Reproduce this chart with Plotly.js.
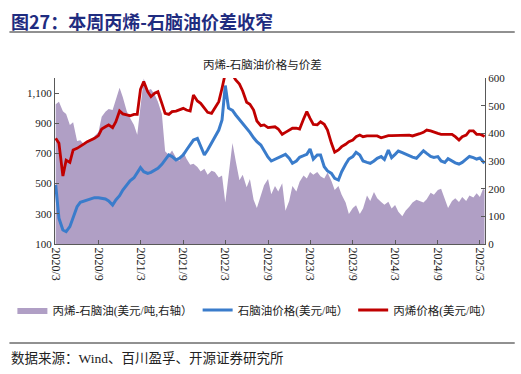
<!DOCTYPE html>
<html>
<head>
<meta charset="utf-8">
<script src="https://cdn.plot.ly/plotly-3.0.1.min.js"></script>
<style>
html,body{margin:0;padding:0;background:#fff;}
#chart{width:521px;height:374px;}
</style>
</head>
<body>
<div id="chart"></div>
<script>
// Semi-monthly observation dates
var dates = [
"2020-03-01","2020-03-15","2020-04-01","2020-04-15","2020-05-01","2020-05-15","2020-06-01","2020-06-15",
"2020-07-01","2020-07-15","2020-08-01","2020-08-15","2020-09-01","2020-09-15","2020-10-01","2020-10-15",
"2020-11-01","2020-11-15","2020-12-01","2020-12-15","2021-01-01","2021-01-15","2021-02-01","2021-02-15",
"2021-03-01","2021-03-15","2021-04-01","2021-04-15","2021-05-01","2021-05-15","2021-06-01","2021-06-15",
"2021-07-01","2021-07-15","2021-08-01","2021-08-15","2021-09-01","2021-09-15","2021-10-01","2021-10-15",
"2021-11-01","2021-11-15","2021-12-01","2021-12-15","2022-01-01","2022-01-15","2022-02-01","2022-02-15",
"2022-03-01","2022-03-15","2022-04-01","2022-04-15","2022-05-01","2022-05-15","2022-06-01","2022-06-15",
"2022-07-01","2022-07-15","2022-08-01","2022-08-15","2022-09-01","2022-09-15","2022-10-01","2022-10-15",
"2022-11-01","2022-11-15","2022-12-01","2022-12-15","2023-01-01","2023-01-15","2023-02-01","2023-02-15",
"2023-03-01","2023-03-15","2023-04-01","2023-04-15","2023-05-01","2023-05-15","2023-06-01","2023-06-15",
"2023-07-01","2023-07-15","2023-08-01","2023-08-15","2023-09-01","2023-09-15","2023-10-01","2023-10-15",
"2023-11-01","2023-11-15","2023-12-01","2023-12-15","2024-01-01","2024-01-15","2024-02-01","2024-02-15",
"2024-03-01","2024-03-15","2024-04-01","2024-04-15","2024-05-01","2024-05-15","2024-06-01","2024-06-15",
"2024-07-01","2024-07-15","2024-08-01","2024-08-15","2024-09-01","2024-09-15","2024-10-01","2024-10-15",
"2024-11-01","2024-11-15","2024-12-01","2024-12-15","2025-01-01","2025-01-15","2025-02-01","2025-02-15",
"2025-03-01","2025-03-15","2025-03-21"
];

// Propylene price (USD/t, left axis)
var propylene = [
800,767,550,655,641,723,734,745,763,778,789,800,818,862,877,889,
871,910,981,962,955,950,959,959,1125,1176,1109,1076,1099,1109,1032,966,
959,977,981,988,999,988,981,1087,1048,1032,1003,973,966,1003,1043,1132,
1230,1265,1225,1187,1160,1114,1039,1026,988,915,884,889,871,873,877,862,
827,840,855,867,867,862,928,977,933,893,890,910,893,855,767,708,
723,745,761,778,789,811,822,811,816,816,818,816,804,811,818,818,
818,822,818,822,822,816,822,831,840,855,849,844,833,827,827,822,
827,811,789,811,822,849,849,827,827,818,811
];

// Naphtha price (USD/t, left axis)
var naphtha = [
491,270,193,182,215,270,347,376,385,392,398,407,407,403,398,385,
358,392,420,458,491,518,539,575,606,579,568,575,590,602,628,657,
690,679,657,668,690,723,756,789,800,751,690,723,767,811,855,922,
1150,1000,985,955,926,895,871,840,804,778,756,721,675,650,661,668,
683,694,668,635,650,675,685,694,730,663,690,690,612,584,568,535,
524,579,628,663,679,708,690,650,641,635,650,668,679,660,723,672,
694,716,706,695,684,676,668,690,718,700,680,674,679,650,640,665,
650,638,630,641,662,680,672,663,670,645,635
];

// Propylene - naphtha spread (USD/t, right axis)
var spread = [
505,514,480,470,430,440,372,375,360,368,374,390,404,460,478,488,
484,520,565,530,480,455,430,395,490,598,555,560,540,514,470,335,
322,338,312,300,334,308,286,290,278,262,272,250,265,260,240,248,
150,240,365,300,230,250,205,235,160,130,175,212,235,180,210,190,
220,120,155,210,190,225,248,237,260,250,260,245,237,258,228,195,
210,178,150,108,130,140,108,128,175,155,188,165,152,142,153,128,
141,117,100,120,135,150,160,155,150,162,185,178,195,200,165,130,
155,165,152,170,155,175,168,183,170,200,195
];

var tickDates = ["2020-03-01","2020-09-01","2021-03-01","2021-09-01","2022-03-01","2022-09-01",
                 "2023-03-01","2023-09-01","2024-03-01","2024-09-01","2025-03-01"];
var tickLabels = ["2020/3","2020/9","2021/3","2021/9","2022/3","2022/9",
                  "2023/3","2023/9","2024/3","2024/9","2025/3"];
var leftTicks = [100,300,500,700,900,1100];
var rightTicks = [0,100,200,300,400,500,600];

var seriesNames = ["丙烯-石脑油(美元/吨,右轴）","石脑油价格(美元/吨）","丙烯价格(美元/吨）"];

var FONT = "Liberation Serif, 'Noto Sans CJK SC', serif";
var AXC = "#595959";

var traces = [
  {x: dates, y: spread, name: seriesNames[0], type: "scatter", mode: "lines",
   fill: "tozeroy", fillcolor: "#B09FC5", line: {width: 0, color: "#B09FC5"},
   yaxis: "y", hoverinfo: "skip"},
  {x: dates, y: naphtha, name: seriesNames[1], type: "scatter", mode: "lines",
   line: {width: 3, color: "#3A7CCB"}, yaxis: "y2"},
  {x: dates, y: propylene, name: seriesNames[2], type: "scatter", mode: "lines",
   line: {width: 2.8, color: "#C00000"}, yaxis: "y2"}
];

// plot area in pixels: x 51..485, y 78..244
function px(x){ return (x-51)/434; }
function py(y){ return (244-y)/166; }

var layout = {
  width: 521, height: 374,
  margin: {l: 51, r: 36, t: 78, b: 130, pad: 0},
  paper_bgcolor: "#fff", plot_bgcolor: "#fff",
  font: {family: FONT, size: 11, color: "#222"},
  showlegend: true,
  legend: {orientation: "h", x: px(8), xanchor: "left", y: py(310), yanchor: "middle",
           font: {family: FONT, size: 11.5, color: "#222"}, itemwidth: 30, tracegroupgap: 0,
           bgcolor: "rgba(0,0,0,0)"},
  xaxis: {type: "date", range: ["2020-02-27","2025-03-23"],
          tickmode: "array", tickvals: tickDates, ticktext: tickLabels,
          tickangle: 90, ticks: "inside", ticklen: 4, tickcolor: AXC,
          showline: true, linecolor: AXC, linewidth: 1, showgrid: false, zeroline: false,
          tickfont: {family: FONT, size: 12, color: "#222"}},
  yaxis: {side: "right", range: [0, 600], tickmode: "array", tickvals: rightTicks,
          ticks: "inside", ticklen: 4, tickcolor: AXC, showline: true, linecolor: AXC,
          linewidth: 1, showgrid: false, zeroline: false,
          tickfont: {family: FONT, size: 11, color: "#222"}},
  yaxis2: {overlaying: "y", side: "left", range: [100, 1200], tickmode: "array",
           tickvals: leftTicks, tickformat: ",d",
           ticks: "inside", ticklen: 4, tickcolor: AXC, showline: true, linecolor: AXC,
           linewidth: 1, showgrid: false, zeroline: false,
           tickfont: {family: FONT, size: 11, color: "#222"}},
  shapes: [
    {type: "line", xref: "paper", yref: "paper", x0: px(5), x1: px(515), y0: py(32), y1: py(32),
     line: {color: "#222", width: 1}},
    {type: "line", xref: "paper", yref: "paper", x0: px(5), x1: px(515), y0: py(343), y1: py(343),
     line: {color: "#222", width: 1}}
  ],
  annotations: [
    {text: "<b>图27：本周丙烯-石脑油价差收窄</b>", xref: "paper", yref: "paper",
     x: px(5), y: py(21), xanchor: "left", yanchor: "middle", showarrow: false,
     font: {family: "'Noto Sans CJK SC', sans-serif", size: 18, color: "#1F2C80"}},
    {text: "丙烯-石脑油价格与价差", xref: "paper", yref: "paper",
     x: px(260), y: py(65), xanchor: "center", yanchor: "middle", showarrow: false,
     font: {family: FONT, size: 11.5, color: "#222"}},
    {text: "数据来源：Wind、百川盈孚、开源证券研究所", xref: "paper", yref: "paper",
     x: px(5), y: py(358), xanchor: "left", yanchor: "middle", showarrow: false,
     font: {family: FONT, size: 13.5, color: "#222"}}
  ]
};

Plotly.newPlot("chart", traces, layout, {displayModeBar: false, staticPlot: true});
</script>
</body>
</html>
